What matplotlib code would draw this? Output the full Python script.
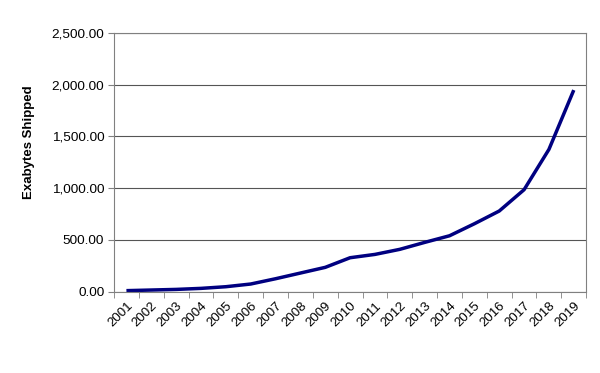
import matplotlib
matplotlib.use("Agg")
import matplotlib.pyplot as plt
from matplotlib.ticker import FuncFormatter, FixedLocator
import numpy as np

years = [str(y) for y in range(2001, 2020)]
exabytes = [10, 16, 22, 32, 48, 74, 125, 180, 235, 328, 360, 409, 476, 540, 656, 779, 985, 1374, 1947]

plt.rcParams['font.family'] = ['Liberation Sans', 'DejaVu Sans']

fig = plt.figure(figsize=(6, 3.73), dpi=100)
ax = fig.add_axes([0.19, 0.218, 0.787, 0.694])

x = np.arange(len(years))
ax.plot(x, exabytes, color='#000080', lw=2.5, solid_joinstyle='round', solid_capstyle='butt')

ax.set_xlim(-0.5, len(years) - 0.5)
ax.set_ylim(0, 2500)
ax.set_yticks(np.arange(0, 2501, 500))
ax.yaxis.set_major_formatter(FuncFormatter(lambda v, p: f"{v:,.2f}"))
ax.grid(axis='y', color='#555555', lw=0.8)
ax.set_axisbelow(True)

ax.set_xticks(x)
ax.set_xticklabels(years, rotation=45, ha='right', rotation_mode='anchor', fontsize=9.5)
ax.xaxis.set_minor_locator(FixedLocator(np.arange(-0.5, len(years), 1)))
ax.tick_params(axis='x', which='major', length=0, pad=6)
ax.tick_params(axis='x', which='minor', length=4, color='#808080')
ax.tick_params(axis='y', length=4, color='#808080', labelsize=9.7, pad=3)

for s in ax.spines.values():
    s.set_color('#808080')
    s.set_linewidth(0.8)

ax.set_ylabel('Exabytes Shipped', fontsize=9.5, fontweight='bold')
ax.yaxis.set_label_coords(-0.168, 0.578)

fig.savefig('out.png', dpi=100)
